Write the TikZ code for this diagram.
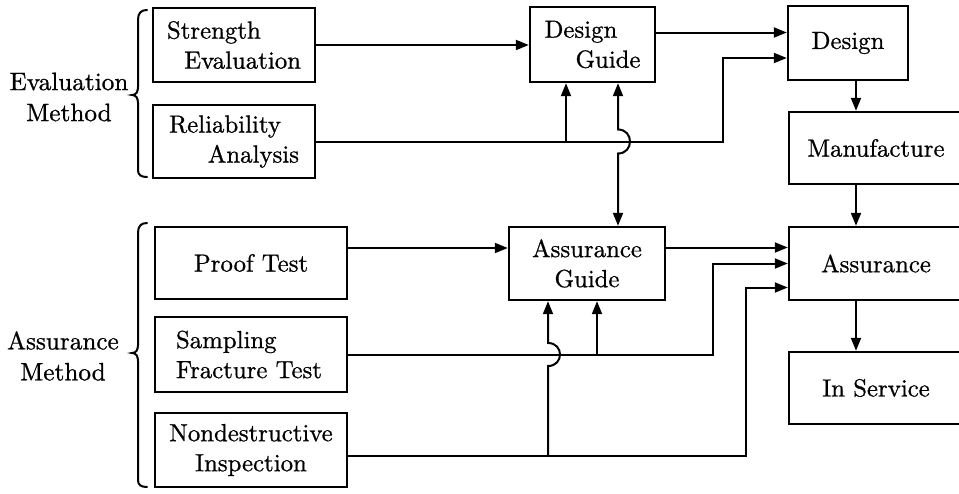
\documentclass[tikz,border=0pt]{standalone}
\usepackage{fontspec}
\newfontfamily\heavyrm{lmroman10-regular.otf}[RawFeature={embolden=0.8}]
\usetikzlibrary{arrows.meta}
\begin{document}
\begin{tikzpicture}[x=0.5pt,y=-0.5pt,
  box/.style={draw, line width=1.2pt, inner sep=0pt, font=\heavyrm\fontsize{12.4}{15}\selectfont},
  lbl/.style={inner sep=0pt, align=center, font=\heavyrm\fontsize{12.6}{15.5}\selectfont},
  conn/.style={line width=1pt},
  arr/.style={conn, -{Triangle[length=6.5pt,width=5pt]}},
  arrboth/.style={conn, {Triangle[length=6.5pt,width=5pt]}-{Triangle[length=6.5pt,width=5pt]}},
  bracepath/.style={line width=1pt, line cap=round}]
\useasboundingbox (0,0) rectangle (959,493);
\clip (0,0) rectangle (959,493);

% x positions for vertical connector runs
\coordinate (x548) at (548,0);
\coordinate (x566) at (566,0);
\coordinate (x597) at (597,0);
\coordinate (x618) at (618,0);
\coordinate (x713) at (713,0);
\coordinate (x723) at (723,0);
\coordinate (x746) at (746,0);
\coordinate (x856) at (856,0);

% left labels
\node[lbl] (em) at (69,97) {Evaluation\\Method};
\node[lbl] (am) at (63,356) {Assurance\\Method};

% braces
\draw[bracepath] (147,10) .. controls (141,10) and (138,13) .. (138,20) -- (138,87)
  .. controls (138,92) and (136,95) .. (132,95) .. controls (136,95) and (138,98) .. (138,103)
  -- (138,170) .. controls (138,175) and (141,177) .. (147,177);
\draw[bracepath] (147,223) .. controls (141,223) and (138,226) .. (138,233) -- (138,345)
  .. controls (138,350) and (136,353) .. (132,353) .. controls (136,353) and (138,356) .. (138,361)
  -- (138,480) .. controls (138,485) and (141,487) .. (147,487);

% boxes
\node[box, minimum width=81pt, minimum height=37pt, text width=67pt, align=left] (se) at (234,45)
  {Strength\\\hspace*{\fill}Evaluation};
\node[box, minimum width=81pt, minimum height=36.5pt, text width=65pt, align=left] (ra) at (234,141.5)
  {Reliability\\\hspace*{\fill}Analysis};
\node[box, minimum width=62.5pt, minimum height=37.5pt, text width=48pt, align=left] (dg) at (592.5,44.5)
  {Design\\\hspace*{\fill}Guide};
\node[box, minimum width=60pt, minimum height=37pt] (de) at (848,43) {Design};
\node[box, minimum width=87pt, minimum height=36pt] (mf) at (876,148) {Manufacture};
\node[box, minimum width=87pt, minimum height=36.5pt] (as) at (876,263.5) {Assurance};
\node[box, minimum width=87pt, minimum height=36pt] (is) at (876,388) {In Service};
\node[box, minimum width=96pt, minimum height=36pt] (pt) at (251,263) {Proof Test};
\node[box, minimum width=96pt, minimum height=37.5pt, text width=75pt, align=left] (sf) at (251,354.5)
  {Sampling\\Fracture Test};
\node[box, minimum width=96pt, minimum height=37pt, align=center] (nd) at (251,450)
  {Nondestructive\\Inspection};
\node[box, minimum width=78pt, minimum height=36.5pt, align=center] (ag) at (587,263.5)
  {Assurance\\Guide};

% helper points on box sides
\coordinate (dgout) at ([yshift=6pt]dg.east);
\coordinate (dein2) at ([yshift=-7.5pt]de.west);
\coordinate (ptout) at ([yshift=7.5pt]pt.east);
\coordinate (agout) at ([yshift=8pt]ag.east);
\coordinate (ndout) at ([yshift=-3pt]nd.east);
\coordinate (asin3) at ([yshift=-12pt]as.west);

% upper connectors
\draw[arr] (se.east) -- (se.east -| dg.west);
\draw[arr] (dgout) -- (dgout -| de.west);
\draw[arr] (ra.east) -- (ra.east -| x723) |- (dein2);
\draw[arr] (ra.east -| x566) -- (dg.south -| x566);
\draw[arrboth] (dg.south -| x618) -- (618,129.5) .. controls (634,129.5) and (634,153.5) .. (618,153.5)
  -- (ag.north -| x618);

% right column
\draw[arr] (de.south -| x856) -- (mf.north -| x856);
\draw[arr] (mf.south -| x856) -- (as.north -| x856);
\draw[arr] (as.south -| x856) -- (is.north -| x856);

% lower connectors
\draw[arr] (ptout) -- (ptout -| ag.west);
\draw[arr] (agout) -- (agout -| as.west);
\draw[arr] (sf.east) -- (sf.east -| x713) |- (as.west);
\draw[arr] (sf.east -| x597) -- (ag.south -| x597);
\draw[arr] (ndout) -- (ndout -| x746) |- (asin3);
\draw[arr] (ndout -| x548) -- (548,366) .. controls (564,366) and (564,343) .. (548,343)
  -- (ag.south -| x548);
\end{tikzpicture}
\end{document}
